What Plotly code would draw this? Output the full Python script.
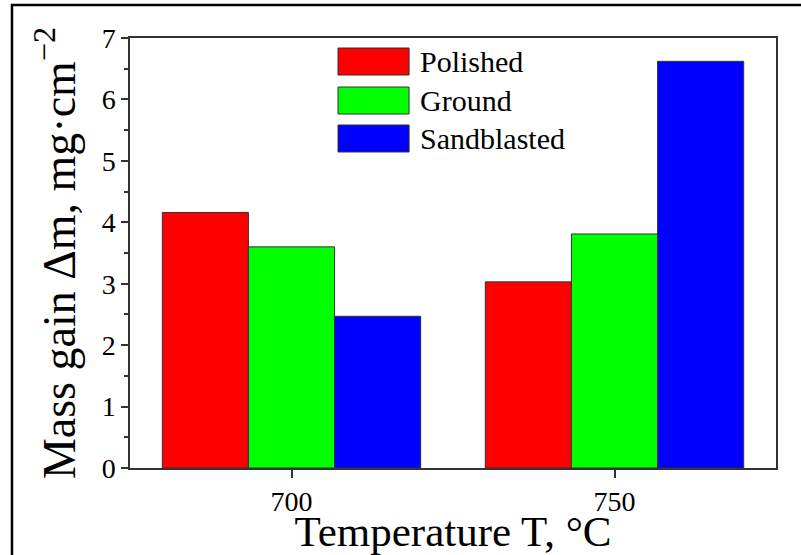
import plotly.graph_objects as go

categories = ["700", "750"]
series_names = ["Polished", "Ground", "Sandblasted"]
series_colors = ["#FF0000", "#00FF00", "#0000FF"]
polished = [4.16, 3.03]
ground = [3.60, 3.81]
sandblasted = [2.47, 6.62]
series_values = [polished, ground, sandblasted]

FONT = "Liberation Serif, Times New Roman, serif"

fig = go.Figure()
for name, color, vals in zip(series_names, series_colors, series_values):
    fig.add_trace(go.Bar(
        x=categories, y=vals, name=name,
        marker=dict(color=color, line=dict(color="#333333", width=1)),
        showlegend=False,
    ))

# Legend drawn as big swatches + text (like the original)
sw_x0, sw_x1 = 0.322, 0.432
row_tops = [0.9767, 0.886, 0.7977]
sw_h = 0.0628
for name, color, top in zip(series_names, series_colors, row_tops):
    fig.add_shape(type="rect", xref="paper", yref="paper",
                  x0=sw_x0, x1=sw_x1, y0=top - sw_h, y1=top,
                  fillcolor=color, line=dict(color="#333333", width=1))
    fig.add_annotation(xref="paper", yref="paper", x=0.4458, y=top - sw_h / 2,
                       text=name, showarrow=False, xanchor="left", yanchor="middle",
                       font=dict(family=FONT, size=30, color="black"))

# outer frame
fig.add_shape(type="rect", xref="paper", yref="paper",
              x0=-0.1827, x1=2, y0=-0.5, y1=1.0767,
              line=dict(color="black", width=2.5), fillcolor="rgba(0,0,0,0)", layer="below")

fig.update_layout(
    width=801, height=555,
    margin=dict(l=130, r=25, t=38, b=87),
    paper_bgcolor="white", plot_bgcolor="white",
    barmode="group", bargap=0.2, bargroupgap=0,
    font=dict(family=FONT, color="black"),
)
fig.update_xaxes(
    type="category", range=[-0.5, 1.5], automargin=False,
    showline=True, linecolor="#333333", linewidth=1.5, mirror=True,
    ticks="outside", ticklen=8, tickcolor="#333333", tickwidth=1.5,
    tickfont=dict(family=FONT, size=28, color="black"),
    showgrid=False, zeroline=False,
    title=dict(text="Temperature T, °C", font=dict(family=FONT, size=43, color="black"), standoff=4),
)
fig.update_yaxes(
    range=[0, 7], dtick=1, tick0=0, automargin=False,
    showline=True, linecolor="#333333", linewidth=1.5, mirror=True,
    ticks="outside", ticklen=7, tickcolor="#333333", tickwidth=1.5,
    minor=dict(ticks="outside", ticklen=4, dtick=0.5, tickcolor="#333333", tickwidth=1.5),
    tickfont=dict(family=FONT, size=28, color="black"),
    showgrid=False, zeroline=False,
    title=dict(text="Mass gain Δm, mg·cm<sup>−2</sup>", font=dict(family=FONT, size=46, color="black"), standoff=12),
)

fig.write_html("out.html")
